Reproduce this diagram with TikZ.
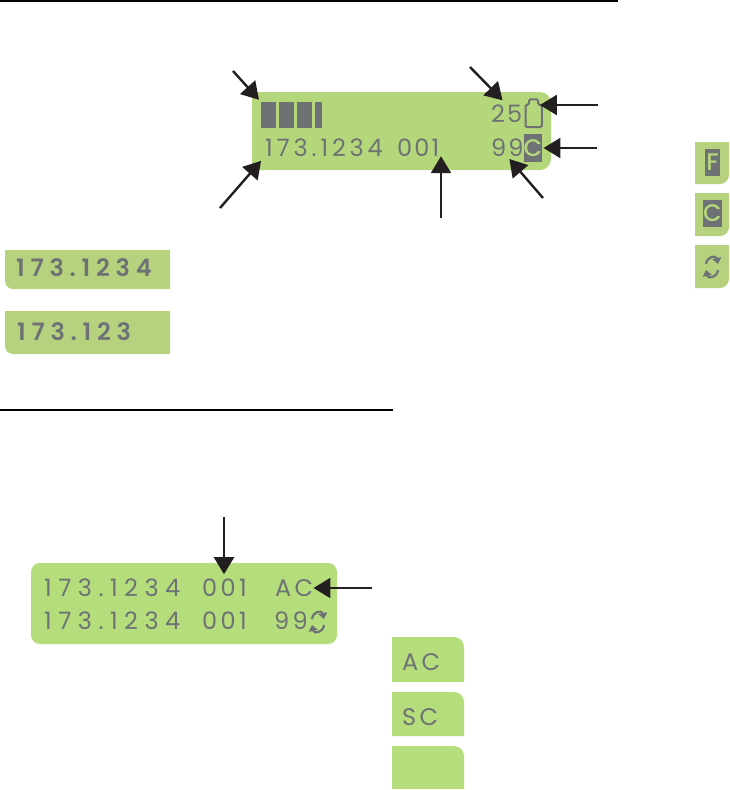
\documentclass[tikz,border=0pt]{standalone}
\usepackage{fontspec}
\usepackage{xcolor}
\usetikzlibrary{arrows.meta, positioning, calc}
\newfontfamily\lcdtop[LetterSpace=9]{Poppins}
\newfontfamily\lcdaddr[LetterSpace=16]{Poppins}
\newfontfamily\lcdwide[LetterSpace=14]{Poppins}
\newfontfamily\lcdwider[LetterSpace=27]{Poppins}
\newfontfamily\lcdcrop[LetterSpace=24]{Poppins SemiBold}
\newfontfamily\lcdinv{Poppins Medium}
\definecolor{lcdgreen}{HTML}{B5D77B}
\definecolor{lcdbright}{HTML}{B5DD7C}
\definecolor{lcdcrop}{HTML}{B7D27E}
\definecolor{lcdgrey}{HTML}{6E7274}
\definecolor{arrowink}{HTML}{231F20}

\begin{document}
\begin{tikzpicture}[x=1pt, y=-1pt,
  callout/.style={draw=arrowink, line width=2.4pt, -{Triangle[length=17pt, width=20pt]}},
  digits/.style={anchor=base west, inner sep=0pt, text=lcdgrey},
  topdigits/.style={digits, font=\lcdtop\fontsize{24}{24}\selectfont},
  addrdigits/.style={digits, font=\lcdaddr\fontsize{24}{24}\selectfont},
  widedigits/.style={digits, font=\lcdwide\fontsize{24}{24}\selectfont},
  widerdigits/.style={digits, font=\lcdwider\fontsize{24}{24}\selectfont},
  cropdigits/.style={digits, font=\lcdcrop\fontsize{24}{24}\selectfont},
  bar/.style={rectangle, fill=lcdgrey, inner sep=0pt, anchor=north west, minimum height=26pt},
  invbox/.style={rectangle, fill=lcdgrey, inner sep=0pt, text=lcdgreen, font=\lcdinv\fontsize{24}{24}\selectfont},
  pics/refresh/.style={code={
    \draw[lcdgrey, line width=2.2pt, -{Triangle[length=6pt, width=9pt]}]
      (-6,-3) .. controls (-5,-11) and (4,-12) .. (6,-3);
    \draw[lcdgrey, line width=2.2pt, -{Triangle[length=6pt, width=9pt]}]
      (6,3) .. controls (5,11) and (-4,12) .. (-6,3);
  }},
]
  \useasboundingbox (0,0) rectangle (730,790);

  % rules
  \draw[line width=1.2pt] (0,1) -- (618,1);
  \draw[line width=1.2pt] (0,410) -- (393,410);

  % main display
  \fill[lcdgreen] [rounded corners=4pt] (252,130) -- (252,92) [rounded corners=11pt] -- (551,92) -- (551,170)
    [rounded corners=4pt] -- (252,170) -- cycle;
  \node[bar, minimum width=15pt] (bar1) at (261,102) {};
  \node[bar, minimum width=15pt] (bar2) at (279,102) {};
  \node[bar, minimum width=15pt] (bar3) at (297,102) {};
  \node[bar, minimum width=7pt] (bar4) at (315,102) {};
  \node[addrdigits] (addr) at (265,156) {173.1234};
  \node[topdigits] (chan) at (397,156) {001};
  \node[topdigits] (val25) at (491,122.5) {25};
  \node[topdigits] (val99) at (491,156.5) {99};
  \node[rectangle, inner sep=0pt, minimum width=16pt, minimum height=22pt] (battery) at (533.7,116) {};
  \draw[lcdgrey, line width=2pt, rounded corners=1.5pt]
    (battery.south west) -- (battery.north west) -- ++(3.5,0) -- ++(0,-5.5) -- ++(9,0) -- ++(0,5.5)
    -- (battery.north east) -- (battery.south east) -- cycle;
  \node[invbox, minimum width=18pt, minimum height=28pt] (unitc) at (533,148) {C};

  % callouts on the main display
  \coordinate (tailbar) at (233,71);
  \coordinate (tailtemp) at (470,67);
  \coordinate (tailbatt) at (598,105);
  \coordinate (tailunit) at (597,148);
  \coordinate (tailval) at (543,198);
  \coordinate (tailchan) at (441,218);
  \coordinate (tailaddr) at (220,208);
  \draw[callout, shorten >=3pt] (tailbar) -- (bar1.north west);
  \draw[callout, shorten >=6pt] (tailtemp) -- (val25.north);
  \draw[callout, shorten >=-2pt] (tailbatt) -- (tailbatt -| battery.east);
  \draw[callout, shorten >=1pt] (tailunit) -- (unitc.east);
  \draw[callout, shorten >=3pt] (tailval) -- (val99.south);
  \draw[callout] (tailchan) -- (tailchan |- chan.south east);
  \draw[callout, shorten >=6pt] (tailaddr) -- (addr.south west);

  % address crops
  \foreach \ya/\yb in {250/289, 311/354} {
    \fill[lcdcrop] (170,\ya) -- (5,\ya) [rounded corners=8pt] -- (5,\yb) [sharp corners] -- (170,\yb) -- cycle;
  }
  \node[cropdigits] (croplong) at (16,276) {173.1234};
  \node[cropdigits] (cropshort) at (17,340) {173.123};

  % unit icons
  \foreach \ya/\yb in {142/184, 193/236, 245/288} {
    \fill[lcdcrop] (695,\yb) -- (695,\ya) -- (729,\ya) [rounded corners=9pt] -- (729,\yb) [sharp corners] -- cycle;
  }
  \node[invbox, minimum width=15pt, minimum height=27pt] (unitf) at (712.5,162.5) {F};
  \node[invbox, minimum width=19pt, minimum height=27pt] (unitc2) at (712.5,213.5) {C};
  \pic at (712,267) {refresh};

  % dual display
  \node[rectangle, fill=lcdbright, rounded corners=9pt, inner sep=0pt, minimum width=306pt, minimum height=81pt] (dual) at (184,603.5) {};
  \node[widerdigits] (addrone) at (44,596) {173.1234};
  \node[widedigits] (chanone) at (202,596) {001};
  \node[widedigits] (modeone) at (275,596) {AC};
  \node[widerdigits] (addrtwo) at (44,629) {173.1234};
  \node[widedigits] (chantwo) at (202,629) {001};
  \node[widedigits] (valtwo) at (274,629) {99};
  \pic at (318,622) {refresh};
  \coordinate (tailone) at (224,517);
  \coordinate (tailmode) at (372,588);
  \draw[callout, shorten >=4pt] (tailone) -- (tailone |- chanone.north);
  \draw[callout] (tailmode) -- (tailmode -| modeone.east);

  % mode swatches
  \foreach \ya/\yb in {637/682, 692/736, 746/789} {
    \fill[lcdbright] (392,\yb) -- (392,\ya) [rounded corners=10pt] -- (464,\ya) [sharp corners] -- (464,\yb) -- cycle;
  }
  \node[widedigits] (swatchac) at (402,670) {AC};
  \node[widedigits] (swatchsc) at (402,725) {SC};
\end{tikzpicture}
\end{document}
